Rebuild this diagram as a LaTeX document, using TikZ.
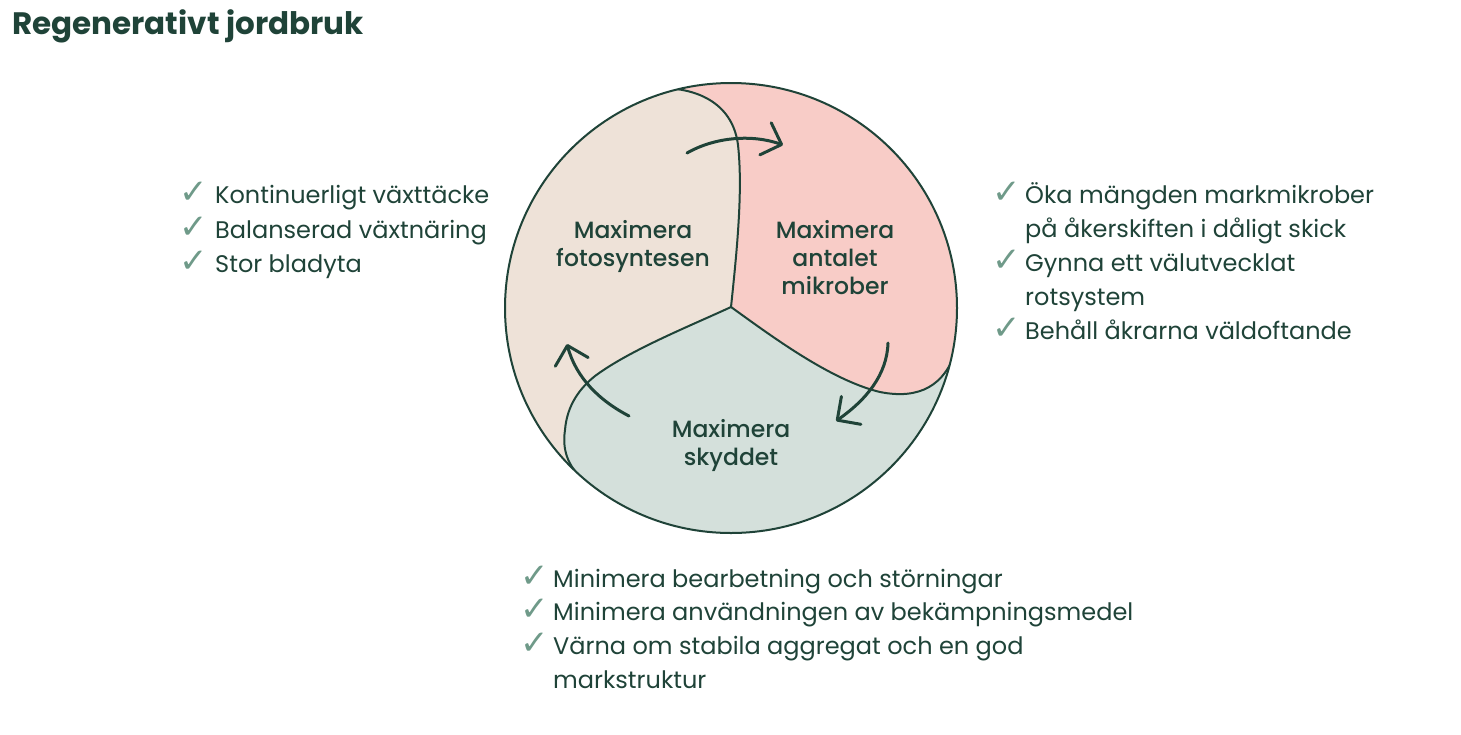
\documentclass[tikz,border=0pt]{standalone}
\usepackage{fontspec}
\setmainfont{Poppins}
\newfontfamily\medfont{Poppins Medium}
\newfontfamily\symfont{DejaVu Sans}
\usetikzlibrary{arrows.meta}
\definecolor{ink}{HTML}{1F4338}
\definecolor{checkc}{HTML}{6F9A89}
\definecolor{beige}{HTML}{EEE2D8}
\definecolor{pinkc}{HTML}{F8CCC7}
\definecolor{greenc}{HTML}{D4E0DB}
\tikzset{
  body/.style={anchor=base west, inner sep=0pt, text=ink, font=\fontsize{24}{34}\selectfont},
  chk/.style={anchor=base west, inner sep=0pt, text=checkc, font=\symfont\fontsize{34}{34}\selectfont},
  lbl/.style={anchor=base, inner sep=0pt, text=ink, font=\medfont\fontsize{23.5}{28}\selectfont},
  bnd/.style={draw=ink, line width=2pt},
  cyc/.style={draw=ink, line width=3pt, line cap=round, -{Straight Barb[length=17pt,width=34pt,line width=3pt,round]}},
}
\begin{document}
\begin{tikzpicture}[x=1pt,y=-1pt]
\useasboundingbox (0,0) rectangle (1461,734);
% title
\node[anchor=base west, inner sep=0pt, text=ink, font=\fontsize{31}{36}\selectfont\bfseries] (title) at (12,34) {Regenerativt jordbruk};
% circle regions
\coordinate (c) at (731,308);
\fill[greenc] (c) ellipse [x radius=226, y radius=225];
\begin{scope}
  \clip (c) ellipse [x radius=226, y radius=225];
  \fill[beige] (731,307) .. controls (737,250) and (743,190) .. (738,145)
     .. controls (733,105) and (700,88) .. (660,88) -- (640,40) -- (470,40) -- (470,560) -- (582,478)
     .. controls (568,466) and (562,450) .. (565,430)
     .. controls (567,405) and (580,388) .. (595,376)
     .. controls (630,350) and (690,326) .. (731,307) -- cycle;
  \fill[pinkc] (731,307) .. controls (737,250) and (743,190) .. (738,145)
     .. controls (733,105) and (700,88) .. (660,88) -- (640,40) -- (1000,40) -- (1000,350) -- (956,350)
     .. controls (945,385) and (920,400) .. (880,392)
     .. controls (830,380) and (770,335) .. (731,307) -- cycle;
  \draw[bnd] (731,307) .. controls (737,250) and (743,190) .. (738,145)
     .. controls (733,105) and (700,88) .. (660,88);
  \draw[bnd] (731,307) .. controls (770,335) and (830,380) .. (880,392)
     .. controls (920,400) and (945,385) .. (956,350);
  \draw[bnd] (731,307) .. controls (690,326) and (630,350) .. (595,376)
     .. controls (580,388) and (567,405) .. (565,430)
     .. controls (562,450) and (568,466) .. (582,478);
\end{scope}
\draw[bnd] (c) ellipse [x radius=226, y radius=225];
% labels
\node[lbl] (f1) at (633,238) {Maximera};
\node[lbl] (f2) at (633,266) {fotosyntesen};
\node[lbl] (m1) at (835,238) {Maximera};
\node[lbl] (m2) at (835,266) {antalet};
\node[lbl] (m3) at (835,294) {mikrober};
\node[lbl] (s1) at (731,437) {Maximera};
\node[lbl] (s2) at (731,465) {skyddet};
% cycle arrows
\coordinate (a1s) at (687,153); \coordinate (a1e) at (783,145);
\coordinate (a2s) at (888,343); \coordinate (a2e) at (836,421);
\coordinate (a3s) at (629,416); \coordinate (a3e) at (567,344);
\draw[cyc] (a1s) .. controls (715,137) and (752,134) .. (a1e);
\draw[cyc] (a2s) .. controls (887,375) and (866,400) .. (a2e);
\draw[cyc] (a3s) .. controls (600,401) and (576,378) .. (a3e);
% left list
\node[chk] (lc1) at (179,203) {✓};
\node[body] (l1) at (215,203) {Kontinuerligt växttäcke};
\node[chk] (lc2) at (179,238) {✓};
\node[body] (l2) at (215,238) {Balanserad växtnäring};
\node[chk] (lc3) at (179,272) {✓};
\node[body] (l3) at (215,272) {Stor bladyta};
% right list
\node[chk] (rc1) at (992,203) {✓};
\node[body] (r1) at (1025,203) {Öka mängden markmikrober};
\node[body] (r1b) at (1025,237) {på åkerskiften i dåligt skick};
\node[chk] (rc2) at (992,271) {✓};
\node[body] (r2) at (1025,271) {Gynna ett välutvecklat};
\node[body] (r2b) at (1025,305) {rotsystem};
\node[chk] (rc3) at (992,339) {✓};
\node[body] (r3) at (1025,339) {Behåll åkrarna väldoftande};
% bottom list
\node[chk] (bc1) at (520,587) {✓};
\node[body] (b1) at (553,587) {Minimera bearbetning och störningar};
\node[chk] (bc2) at (520,620) {✓};
\node[body] (b2) at (553,620) {Minimera användningen av bekämpningsmedel};
\node[chk] (bc3) at (520,654) {✓};
\node[body] (b3) at (553,654) {Värna om stabila aggregat och en god};
\node[body] (b3b) at (553,688) {markstruktur};
\end{tikzpicture}
\end{document}
